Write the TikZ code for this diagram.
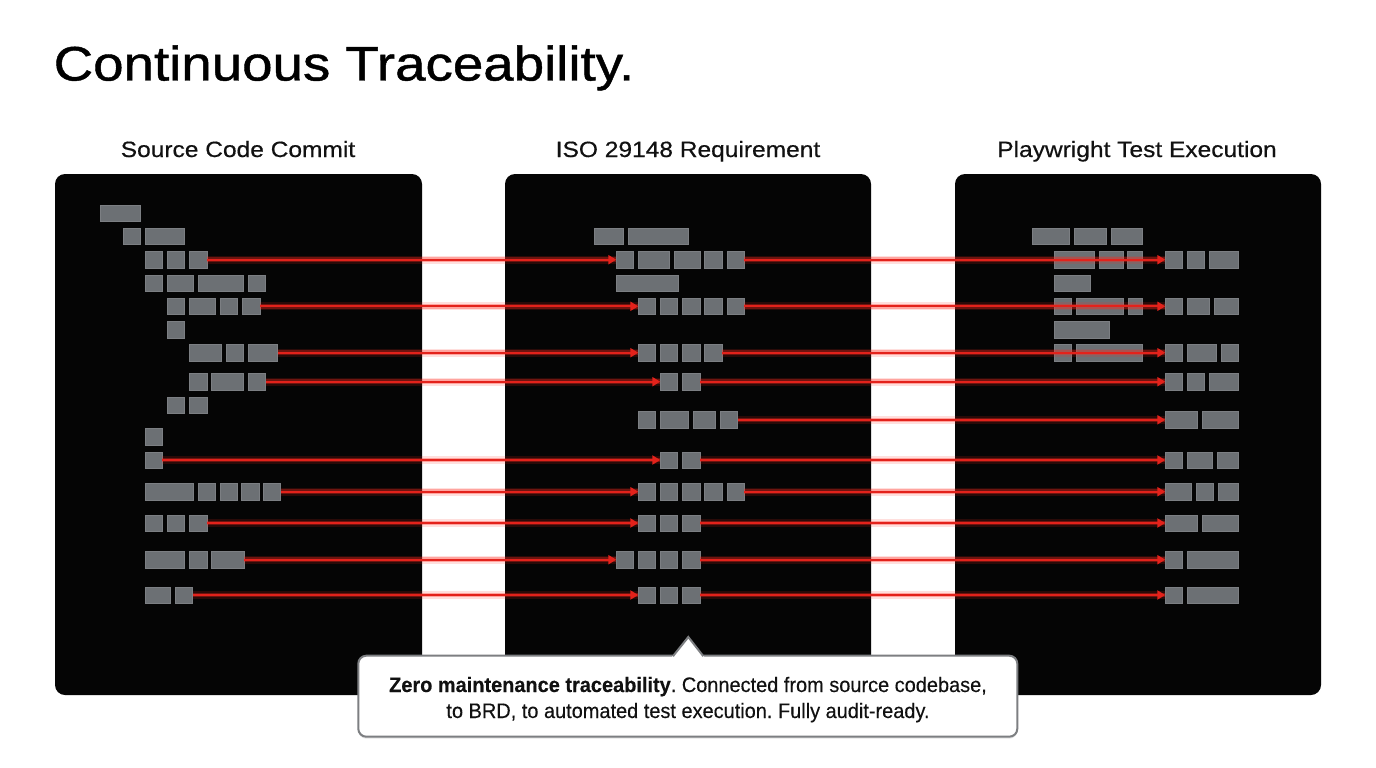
\documentclass[tikz,border=0pt]{standalone}
\usepackage{fontspec}
\setmainfont{Liberation Sans}
\newfontfamily\titlefont[FakeStretch=1.13,FakeBold=0.9]{Liberation Sans}
\newfontfamily\headfont[FakeStretch=1.11,FakeBold=0.5]{Liberation Sans}
\newfontfamily\callfont[FakeStretch=0.95,FakeBold=0.3]{Liberation Sans}
\usetikzlibrary{arrows.meta,shadows}
\frenchspacing
\definecolor{panelbg}{HTML}{050505}
\definecolor{blockgray}{HTML}{6C7074}
\definecolor{blockedge}{HTML}{7C7F83}
\definecolor{linkred}{HTML}{E3221B}
\definecolor{glowred}{HTML}{FF2A1F}
\definecolor{callborder}{HTML}{7D7F82}
\definecolor{headtext}{HTML}{111111}
\tikzset{
  panel/.style={fill=panelbg, rounded corners=10pt, inner sep=0pt, outer sep=0pt},
  blk/.style={fill=blockgray, draw=blockedge, line width=0.5pt, inner sep=0pt, outer sep=0pt, minimum height=16.5pt, anchor=west},
  glowA/.style={draw=glowred, line width=8pt, opacity=0.15},
  glowB/.style={draw=glowred, line width=4.5pt, opacity=0.32},
  link/.style={draw=linkred, line width=2pt, -{Triangle[length=8pt,width=9pt]}},
  head/.style={font=\headfont\fontsize{22.1}{26}\selectfont, text=headtext, anchor=base, inner sep=0pt},
  calltext/.style={font=\callfont\fontsize{21}{26}\selectfont, text=headtext, anchor=base, inner sep=0pt},
}
\newcommand\blocks[3]{\foreach \a/\b [count=\i] in {#3}{\node[blk, minimum width={\b-\a}] (#1\i) at (\a,#2) {};}}
\newcommand\link[2]{\path[glowA] (#1.east) -- (#2.west); \path[glowB] (#1.east) -- (#2.west); \path[link] (#1.east) -- (#2.west);}
\begin{document}
\begin{tikzpicture}[x=1pt,y=-1pt]
\fill[white] (0,0) rectangle (1376,768);
\useasboundingbox (0,0) rectangle (1376,768);
% title
\node[font=\titlefont\fontsize{48.4}{56}\selectfont, anchor=base west, inner sep=0pt] (title) at (53.5,80.5) {Continuous Traceability.};
% panels
\node[panel, minimum width=367, minimum height=521] (P1) at (238.5,434.5) {};
\node[panel, minimum width=366, minimum height=521] (P2) at (688,434.5) {};
\node[panel, minimum width=366, minimum height=521] (P3) at (1138,434.5) {};
\node[head] (H1) at (238,157) {Source Code Commit};
\node[head] (H2) at (688,157) {ISO 29148 Requirement};
\node[head] (H3) at (1137,157) {Playwright Test Execution};
% left blocks
\blocks{LA-}{213}{100.7/140.3}
\blocks{LB-}{236.3}{123.3/140.3, 145.3/184.7}
\blocks{LC-}{259.7}{145.3/162.3, 167.3/184.7, 189.3/207}
\blocks{LD-}{283}{145.3/162.3, 167.3/193.7, 198.7/243.7, 248.3/265.7}
\blocks{LE-}{306.3}{167.3/184.7, 189.3/215.3, 220.3/237.7, 242.7/260}
\blocks{LF-}{329.7}{167.3/184.7}
\blocks{LG-}{352.7}{189.3/221.7, 226.3/243.7, 248.3/277.7}
\blocks{LH-}{381.7}{189.3/207, 211.7/243.7, 248.3/265.7}
\blocks{LI-}{405}{167.3/184.7, 189.3/207}
\blocks{LJ-}{436.5}{145.3/162.3}
\blocks{LK-}{460}{145.3/162.3}
\blocks{LL-}{491.7}{145.3/193.7, 198.7/215.3, 220.3/237.7, 241.7/259, 263.3/280.7}
\blocks{LM-}{523}{145.3/162.3, 167.3/184.7, 189.3/207}
\blocks{LN-}{559.7}{145.3/184.7, 189.3/207, 211.7/244.3}
\blocks{LO-}{595}{145.3/170.7, 175.7/192.7}
% middle blocks
\blocks{MA-}{236.3}{594.3/623, 628/688}
\blocks{MB-}{259.7}{616.3/633.7, 638.3/669.7, 674.3/700, 704.7/722, 727/744.3}
\blocks{MC-}{283}{616.3/678.7}
\blocks{MD-}{306.3}{638.3/655.7, 660.3/677.7, 682.7/700, 704.7/722, 727/744.3}
\blocks{ME-}{352.7}{638.3/655.7, 660.3/677.7, 682.7/700, 704.7/722}
\blocks{MF-}{381.7}{660.3/677.7, 682.7/700}
\blocks{MG-}{419.8}{638.3/655.7, 660.3/688.3, 693.3/715.7, 720.3/737.7}
\blocks{MH-}{460}{660.3/677.7, 682.7/700}
\blocks{MI-}{491.7}{638.3/655.7, 660.3/677.7, 682.7/700, 704.7/722, 727/744.3}
\blocks{MJ-}{523}{638.3/655.7, 660.3/677.7, 682.7/700}
\blocks{MK-}{559.7}{616.3/633.7, 638.3/655.7, 660.3/677.7, 682.7/700}
\blocks{ML-}{595}{638.3/655.7, 660.3/677.7, 682.7/700}
% right blocks
\blocks{RA-}{236.3}{1032/1069.3, 1074.3/1106, 1111/1142.7}
\blocks{RB-}{259.7}{1054.3/1094, 1099/1123, 1127.7/1142.7, 1165.3/1182.3, 1187.3/1204.7, 1209.7/1238}
\blocks{RC-}{283}{1054.3/1090.3}
\blocks{RD-}{306.3}{1054.3/1071.3, 1076.3/1123.7, 1128.7/1142.7, 1165.3/1182.3, 1187.3/1209.7, 1214.7/1238}
\blocks{RE-}{329.7}{1054.3/1109.3}
\blocks{RF-}{352.7}{1054.3/1071.3, 1076.3/1142.7, 1165.3/1182.3, 1187.3/1216.3, 1221.3/1238}
\blocks{RG-}{381.7}{1165.3/1182.3, 1187.3/1204.7, 1209.7/1238}
\blocks{RH-}{419.8}{1165.3/1197, 1202/1238}
\blocks{RI-}{460}{1165.3/1182.3, 1187.3/1212, 1217/1238}
\blocks{RJ-}{491.7}{1165.3/1191, 1196/1213, 1218/1238}
\blocks{RK-}{523}{1165.3/1197, 1202/1238}
\blocks{RL-}{559.7}{1165.3/1182.3, 1187.3/1238}
\blocks{RM-}{595}{1165.3/1182.3, 1187.3/1238}
% links left -> middle
\link{LC-3}{MB-1}
\link{LE-4}{MD-1}
\link{LG-3}{ME-1}
\link{LH-3}{MF-1}
\link{LK-1}{MH-1}
\link{LL-5}{MI-1}
\link{LM-3}{MJ-1}
\link{LN-3}{MK-1}
\link{LO-2}{ML-1}
% links middle -> right
\link{MB-5}{RB-4}
\link{MD-5}{RD-4}
\link{ME-4}{RF-3}
\link{MF-2}{RG-1}
\link{MG-4}{RH-1}
\link{MH-2}{RI-1}
\link{MI-5}{RJ-1}
\link{MJ-3}{RK-1}
\link{MK-4}{RL-1}
\link{ML-3}{RM-1}
% callout
\node[draw=callborder, line width=2pt, fill=white, rounded corners=8pt, minimum width=659, minimum height=81, inner sep=0pt,
  drop shadow={opacity=0.2, shadow xshift=0pt, shadow yshift=-2pt}] (call) at (687.8,696.2) {};
\coordinate (tipL) at (673,656.2);
\coordinate (tip) at (688.3,637);
\coordinate (tipR) at (703.3,656.2);
\fill[white] (671.5,657.6) -- (tip) -- (704.8,657.6) -- cycle;
\draw[callborder, line width=2pt, line join=miter] (tipL) -- (tip) -- (tipR);
\node[calltext] (cl1) at (688,692) {\textbf{Zero maintenance traceability}. Connected from source codebase,};
\node[calltext] (cl2) at (688,718) {to BRD, to automated test execution. Fully audit-ready.};
\end{tikzpicture}
\end{document}
